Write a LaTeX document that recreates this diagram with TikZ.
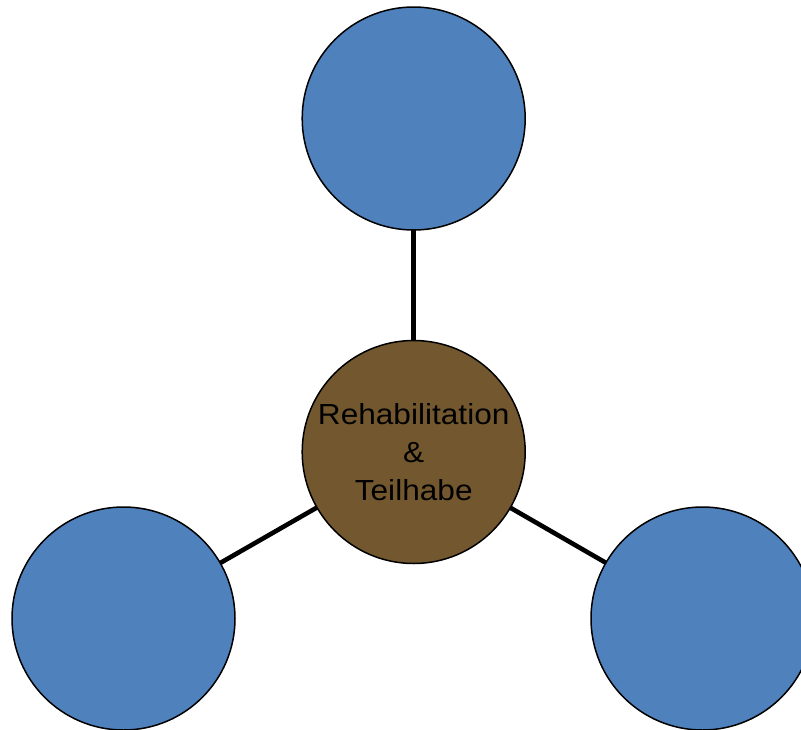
\documentclass[tikz,border=0pt]{standalone}
\usepackage{fontspec}
\newfontfamily\labfont[FakeStretch=1.09]{Liberation Sans}
\usetikzlibrary{backgrounds}
\definecolor{bluefill}{HTML}{4F81BD}
\definecolor{brownfill}{HTML}{73582F}
\tikzset{
  bubble/.style={circle, draw=black, line width=1.5pt, minimum size=223pt, inner sep=0pt},
  outer/.style={bubble, fill=bluefill},
  hub/.style={bubble, fill=brownfill, align=center, font=\labfont\fontsize{29}{38.3}\selectfont},
  link/.style={draw=black, line width=4.6pt}
}
\begin{document}
\begin{tikzpicture}[x=1pt,y=-1pt]
\useasboundingbox (0,0) rectangle (801,729);
\node[hub] (c) at (413.7,452) {Rehabilitation\\\&\\Teilhabe};
\node[outer] (t) at (413.7,118.5) {};
\node[outer] (l) at (123.5,618.5) {};
\node[outer] (r) at (702.5,618.5) {};
\begin{scope}[on background layer]
\draw[link] (c.center) -- (t.center);
\draw[link] (c.center) -- (l.center);
\draw[link] (c.center) -- (r.center);
\end{scope}
\end{tikzpicture}
\end{document}
